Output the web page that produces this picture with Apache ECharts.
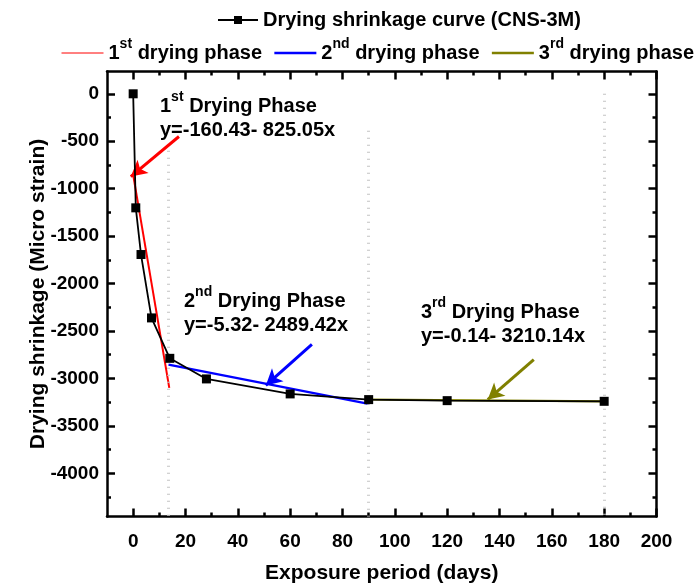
<!DOCTYPE html>
<html>
<head>
<meta charset="utf-8">
<script src="https://cdn.jsdelivr.net/npm/echarts@6/dist/echarts.min.js"></script>
<style>html,body{margin:0;padding:0;background:#fff}#chart{width:700px;height:586px}</style>
</head>
<body>
<div id="chart"></div>
<script>
// ---- data ----
const days = [0, 1, 3, 7, 14, 28, 60, 90, 120, 180];
const shrinkage = [0, -1202, -1694, -2362, -2788, -3005, -3163, -3223, -3234, -3241];
const phase1Days = [0, 13.8];
const phase1Values = [-855, -3100];
const phase2Days = [13.5, 90];
const phase2Values = [-2855, -3268];
const phase3Days = [90, 181];
const phase3Values = [-3222, -3242];
const arrow1 = [[17.5, -450], [-0.9, -872]];
const arrow2 = [[68.3, -2641], [50.7, -3074]];
const arrow3 = [[153.1, -2801], [135.5, -3223]];
const guideDays = [13.5, 90, 180];
const guideTops = [-600, -390, 0];
const xMajor = [0, 20, 40, 60, 80, 100, 120, 140, 160, 180, 200];
const xMinor = [10, 30, 50, 70, 90, 110, 130, 150, 170, 190];
const yMajor = [0, -500, -1000, -1500, -2000, -2500, -3000, -3500, -4000];
const yMinor = [-250, -750, -1250, -1750, -2250, -2750, -3250, -3750, -4250];
const xMin = -10, xMax = 200, yMin = -4455, yMax = 235;
const seriesNames = ['Drying shrinkage curve (CNS-3M)', '1st drying phase', '2nd drying phase', '3rd drying phase'];

const FONT = "'Liberation Sans', Arial, sans-serif";
const pairs = (xs, ys) => xs.map((x, i) => [x, ys[i]]);

const chart = echarts.init(document.getElementById('chart'), null, {renderer: 'canvas'});

const lineAx = {show: true, onZero: false, lineStyle: {color: '#000', width: 2.5}};
const noLine = {show: false, onZero: false};
function xAx(pos, major, vals, label) {
  return {
    type: 'value', min: xMin, max: xMax, position: pos,
    axisLine: major ? lineAx : noLine,
    axisTick: {show: true, inside: true, length: major ? 8 : 4, customValues: vals, lineStyle: {color: '#000', width: 2.5}},
    axisLabel: label ? {show: true, customValues: vals, fontSize: 19, fontWeight: 'bold', color: '#000', fontFamily: FONT, margin: 16, formatter: v => String(v)} : {show: false},
    splitLine: {show: false},
    name: label ? 'Exposure period (days)' : '',
    nameLocation: 'middle', nameGap: 46, nameMoveOverlap: false,
    nameTextStyle: {fontSize: 21, fontWeight: 'bold', color: '#000', fontFamily: FONT}
  };
}
function yAx(pos, major, vals, label) {
  return {
    type: 'value', min: yMin, max: yMax, position: pos,
    axisLine: major ? lineAx : noLine,
    axisTick: {show: true, inside: true, length: major ? 8 : 4, customValues: vals, lineStyle: {color: '#000', width: 2.5}},
    axisLabel: label ? {show: true, customValues: vals, fontSize: 19, fontWeight: 'bold', color: '#000', fontFamily: FONT, margin: 8, formatter: v => String(v)} : {show: false},
    splitLine: {show: false},
    name: label ? 'Drying shrinkage (Micro strain)' : '',
    nameLocation: 'middle', nameGap: 58, nameMoveOverlap: false,
    nameTextStyle: {fontSize: 21, fontWeight: 'bold', color: '#000', fontFamily: FONT}
  };
}

const richN = {fontSize: 20, fontWeight: 'bold', fontFamily: FONT, color: '#000', lineHeight: 32};
const richS = {fontSize: 14, fontWeight: 'bold', fontFamily: FONT, color: '#000', verticalAlign: 'top'};

function arrowLine(a, color) {
  return {
    silent: true, symbol: ['none', 'arrow'], symbolSize: [13, 16],
    label: {show: false},
    lineStyle: {color: color, width: 3, type: 'solid'},
    emphasis: {disabled: true},
    data: [[{coord: a[0]}, {coord: a[1]}]]
  };
}

function annot(x, y, ord, sup, formula) {
  return [
    {type: 'text', x: x, y: y, silent: true, style: {
      text: '{n|' + ord + '}{s|' + sup + '}{n| Drying Phase}',
      rich: {n: richN, s: richS}, verticalAlign: 'middle', align: 'left'}},
    {type: 'text', x: x, y: y + 24, silent: true, style: {
      text: formula, fill: '#000', font: "bold 20px " + FONT, verticalAlign: 'middle', align: 'left'}}
  ];
}

const supMap = {'1st drying phase': ['1', 'st'], '2nd drying phase': ['2', 'nd'], '3rd drying phase': ['3', 'rd']};
const hideSym = {opacity: 0};

const option = {
  backgroundColor: '#fff',
  animation: false,
  grid: {left: 107, right: 43.5, top: 71.5, bottom: 69.5, containLabel: false, outerBoundsMode: 'none'},
  legend: [
    {data: [seriesNames[0]], left: 212, top: 5, itemWidth: 40, itemHeight: 10, itemGap: 5,
     textStyle: {fontSize: 20, fontWeight: 'bold', color: '#000', fontFamily: FONT}},
    {data: [
      {name: seriesNames[1], itemStyle: hideSym, lineStyle: {width: 1}},
      {name: seriesNames[2], itemStyle: hideSym, lineStyle: {width: 2.5}},
      {name: seriesNames[3], itemStyle: hideSym, lineStyle: {width: 2.5}}],
     left: 56, top: 32, itemWidth: 42, itemHeight: 10, itemGap: 11,
     formatter: n => '{n|' + supMap[n][0] + '}{s|' + supMap[n][1] + '}{n| drying phase}',
     textStyle: {rich: {n: richN, s: richS}}}
  ],
  xAxis: [xAx('bottom', true, xMajor, true), xAx('bottom', false, xMinor, false), xAx('top', true, xMajor, false), xAx('top', false, xMinor, false)],
  yAxis: [yAx('left', true, yMajor, true), yAx('left', false, yMinor, false), yAx('right', true, yMajor, false), yAx('right', false, yMinor, false)],
  series: [
    {name: 'guides', type: 'line', data: [], silent: true,
     markLine: {silent: true, symbol: 'none', label: {show: false},
       lineStyle: {color: '#c4c4c4', width: 3, type: [1, 6]}, emphasis: {disabled: true},
       data: guideDays.map((d, i) => [{coord: [d, guideTops[i]]}, {coord: [d, yMin]}])}},
    {name: seriesNames[0], type: 'line', data: pairs(days, shrinkage), symbol: 'rect', symbolSize: 9,
     itemStyle: {color: '#000'}, lineStyle: {color: '#000', width: 1.8}, z: 5},
    {name: seriesNames[1], type: 'line', data: pairs(phase1Days, phase1Values), symbol: 'none',
     lineStyle: {color: '#ff0000', width: 2}, itemStyle: {color: '#ff0000'}, z: 4, markLine: arrowLine(arrow1, '#ff0000')},
    {name: seriesNames[2], type: 'line', data: pairs(phase2Days, phase2Values), symbol: 'none',
     lineStyle: {color: '#0000ff', width: 2.2}, itemStyle: {color: '#0000ff'}, z: 4, markLine: arrowLine(arrow2, '#0000ff')},
    {name: seriesNames[3], type: 'line', data: pairs(phase3Days, phase3Values), symbol: 'none',
     lineStyle: {color: '#808000', width: 2.2}, itemStyle: {color: '#808000'}, z: 4, markLine: arrowLine(arrow3, '#808000')}
  ],
  graphic: [].concat(
    annot(160, 106, '1', 'st', 'y=-160.43- 825.05x'),
    annot(184, 301, '2', 'nd', 'y=-5.32- 2489.42x'),
    annot(421, 312, '3', 'rd', 'y=-0.14- 3210.14x')
  )
};
chart.setOption(option);
</script>
</body>
</html>
